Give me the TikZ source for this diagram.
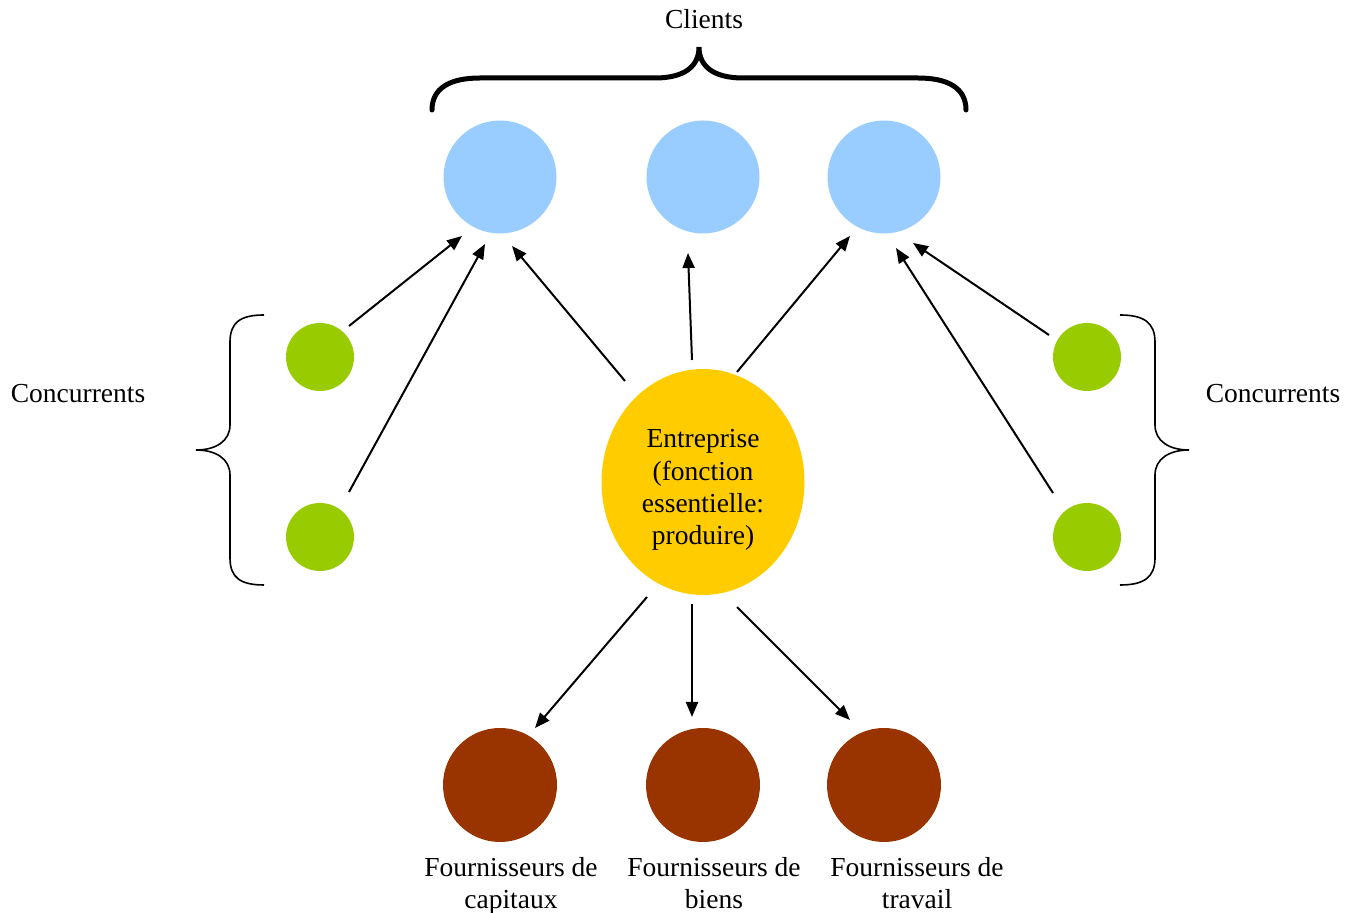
\documentclass[tikz,border=0pt]{standalone}
\usepackage{fontspec}
\setmainfont{Liberation Serif}
\usetikzlibrary{arrows.meta,shapes.geometric,calc}
\definecolor{clientblue}{HTML}{99CCFF}
\definecolor{rivalgreen}{HTML}{99CC00}
\definecolor{firmyellow}{HTML}{FFCC00}
\definecolor{supplierbrown}{HTML}{993300}
\begin{document}
\begin{tikzpicture}[x=0.5pt,y=-0.5pt,
  every node/.style={font=\fontsize{13.75}{16.2}\selectfont},
  client/.style={circle,fill=clientblue,minimum size=56.5pt,inner sep=0pt},
  rival/.style={circle,fill=rivalgreen,minimum size=34pt,inner sep=0pt},
  supplier/.style={circle,fill=supplierbrown,minimum size=57pt,inner sep=0pt},
  firm/.style={ellipse,fill=firmyellow,minimum width=101.5pt,minimum height=113pt,inner sep=0pt},
  caption/.style={align=center,inner sep=0pt},
  arr/.style={draw,line width=1pt,-{Triangle[length=7.5pt,width=6pt]}},
  bracethin/.style={draw,line width=0.8pt},
  bracethick/.style={draw,line width=2.5pt,line cap=round}]
\useasboundingbox (0,0) rectangle (1356,913);

% clients
\node[client] (b1) at (500,177) {};
\node[client] (b2) at (703,177) {};
\node[client] (b3) at (884,177) {};
% competitors
\node[rival] (g1) at (320,357) {};
\node[rival] (g2) at (320,537) {};
\node[rival] (g3) at (1087,357) {};
\node[rival] (g4) at (1087,537) {};
% firm
\node[firm] (e) at (703,482) {};
\node[caption] (etext) at (703,492) {Entreprise\\(fonction\\essentielle:\\produire)\strut};
% suppliers
\node[supplier] (f1) at (500,785) {};
\node[supplier] (f2) at (703,785) {};
\node[supplier] (f3) at (884,785) {};

% labels
\node[caption] (tclients) at (704,19) {Clients};
\node[caption] (tconcl) at (78,394) {Concurrents};
\node[caption] (tconcr) at (1273,394) {Concurrents};
\node[caption] (tf1) at (511,888) {Fournisseurs de\\capitaux\strut};
\node[caption] (tf2) at (714,888) {Fournisseurs de\\biens\strut};
\node[caption] (tf3) at (917,888) {Fournisseurs de\\travail\strut};

% braces
\draw[bracethick] (432,110) .. controls (432,88) and (450,78) .. (480,78) -- (655,78)
  .. controls (685,78) and (699,66) .. (699,47)
  .. controls (699,66) and (713,78) .. (743,78) -- (918,78)
  .. controls (948,78) and (966,88) .. (966,110);
\draw[bracethin] (264,315) .. controls (241,315) and (230,322) .. (230,342) -- (230,425)
  .. controls (230,441) and (216,450) .. (196,450)
  .. controls (216,450) and (230,459) .. (230,475) -- (230,558)
  .. controls (230,578) and (241,585) .. (264,585);
\draw[bracethin] (1120,315) .. controls (1143,315) and (1155,322) .. (1155,342) -- (1155,425)
  .. controls (1155,441) and (1169,450) .. (1189,450)
  .. controls (1169,450) and (1155,459) .. (1155,475) -- (1155,558)
  .. controls (1155,578) and (1143,585) .. (1120,585);

% arrows towards clients
\draw[arr] ($(g1)+(29,-31)$) -- ($(b1)+(-38,59)$);
\draw[arr] ($(g2)+(29,-45)$) -- ($(b1)+(-15,67)$);
\draw[arr] ($(e)+(-78,-101)$) -- ($(b1)+(12,69)$);
\draw[arr] ($(e)+(-11,-122)$) -- ($(b2)+(-15,76)$);
\draw[arr] ($(e)+(34,-110)$) -- ($(b3)+(-34,59)$);
\draw[arr] ($(g3)+(-38,-22)$) -- ($(b3)+(29,66)$);
\draw[arr] ($(g4)+(-34,-44)$) -- ($(b3)+(12,71)$);
% arrows towards suppliers
\draw[arr] ($(e)+(-56,115)$) -- ($(f1)+(35,-57)$);
\draw[arr] ($(e)+(-11,122)$) -- ($(f2)+(-11,-68)$);
\draw[arr] ($(e)+(34,125)$) -- ($(f3)+(-34,-65)$);
\end{tikzpicture}
\end{document}
